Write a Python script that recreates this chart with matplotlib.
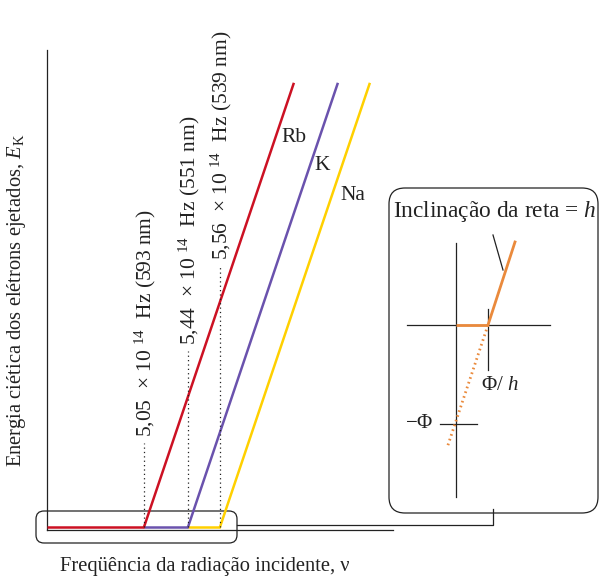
import numpy as np
import matplotlib.pyplot as plt
from matplotlib.patches import FancyBboxPatch

plt.rcParams['font.family'] = ['Liberation Serif', 'DejaVu Serif']
plt.rcParams['mathtext.fontset'] = 'custom'
plt.rcParams['mathtext.rm'] = 'Liberation Serif'
plt.rcParams['mathtext.it'] = 'Liberation Serif:italic'

# metais, cores e limiares (posicao no diagrama, nao em escala)
metals = ['Rb', 'K', 'Na']
colors = ['#cc1123', '#6a52ad', '#ffd000']
threshold_x = [144, 188, 220]
freq_labels = [r'5,05  $\times$ 10$^{\;\,14}$  Hz (593 nm)',
               r'5,44  $\times$ 10$^{\;\,14}$  Hz (551 nm)',
               r'5,56  $\times$ 10$^{\;\,14}$  Hz (539 nm)']
label_start_y = [437, 345, 260]
name_xy = [(294, 138), (322, 166), (353, 196)]

base_y = 527
top_y = 84
slope = 443 / 149.5   # todas as retas paralelas (inclinacao = h)

fig = plt.figure(figsize=(6, 5.81), dpi=100)
ax = fig.add_axes([0, 0, 1, 1])
ax.set_xlim(0, 600)
ax.set_ylim(581, 0)
ax.axis('off')

k = '#222222'
# eixos principais
ax.plot([47, 47], [50, 530], color=k, lw=0.9)
ax.plot([47, 393], [530, 530], color=k, lw=0.9)

# trechos horizontais (E_K = 0)
starts = [47] + threshold_x[:-1]
for x0, x1, c in zip(starts, threshold_x, colors):
    ax.plot([x0, x1], [base_y, base_y], color=c, lw=1.8, solid_capstyle='butt')

for x0, c, lab, ly, nm, (nx, ny) in zip(threshold_x, colors, freq_labels,
                                         label_start_y, metals, name_xy):
    x1 = x0 + (base_y - top_y) / slope
    ax.plot([x0, x1], [base_y, top_y], color=c, lw=1.8)
    ax.plot([x0, x0], [base_y, ly + 6], color=k, lw=0.9, ls=(0, (1, 2.5)))
    ax.text(x0 + 1, ly, lab, rotation=90, rotation_mode='anchor',
            ha='left', va='center', fontsize=15.5, color=k)
    ax.text(nx, ny, nm, ha='center', va='center', fontsize=15.5, color=k)

ax.text(17, 300, r'Energia ciética dos elétrons ejetados, $E_{\mathrm{K}}$',
        rotation=90, ha='center', va='center', fontsize=14.8, color=k)
ax.text(205, 567, 'Freqüência da radiação incidente, ν',
        ha='center', va='center', fontsize=14.8, color=k)

# caixa de destaque e ligacao
ax.add_patch(FancyBboxPatch((36, 511), 201, 32,
                            boxstyle='round,pad=0,rounding_size=8',
                            fc='none', ec=k, lw=0.9))
ax.add_patch(FancyBboxPatch((389, 188), 209, 325,
                            boxstyle='round,pad=0,rounding_size=16',
                            fc='none', ec=k, lw=0.9))
ax.plot([237, 493, 493], [525, 525, 509], color=k, lw=0.9)

# detalhe: inclinacao = h
orange = '#ea8a3c'
ax.text(495, 212, r'Inclinação da reta = $h$', ha='center', va='center',
        fontsize=16.8, color=k)
ax.plot([456, 456], [243, 497], color=k, lw=0.9)
ax.plot([407, 550], [325, 325], color=k, lw=0.9)
ax.plot([488, 488], [309, 370], color=k, lw=0.9)
ax.plot([440, 477], [424, 424], color=k, lw=0.9)
ax.plot([456, 488], [325, 325], color=orange, lw=2, solid_capstyle='butt')
ax.plot([488, 515], [325, 242], color=orange, lw=2)
ax.plot([488, 447], [325, 448], color=orange, lw=2, ls=(0, (0.6, 1.2)))
ax.plot([493, 503], [235, 270], color=k, lw=0.9)
ax.text(419, 424, r'$-\Phi$', ha='center', va='center', fontsize=15, color=k)
ax.text(500, 385, r'$\Phi$/ $h$', ha='center', va='center', fontsize=15, color=k)

fig.savefig('out.png', dpi=100)
